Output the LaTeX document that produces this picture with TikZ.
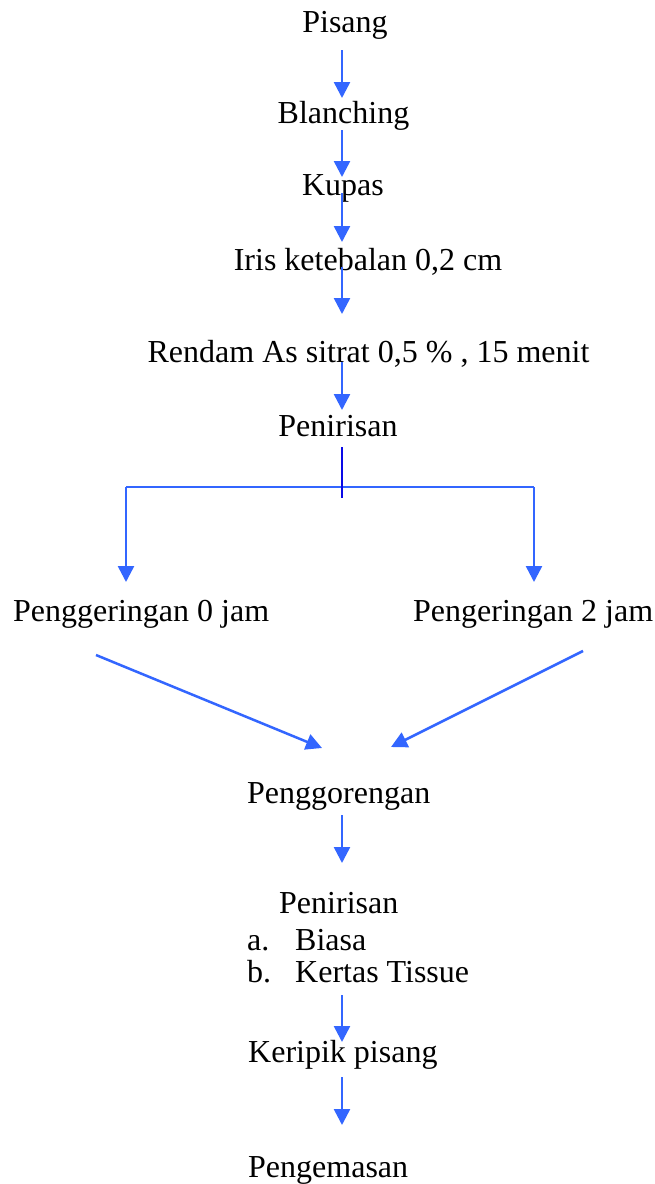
\documentclass[tikz,border=0pt]{standalone}
\usepackage{fontspec}
\setmainfont{Liberation Serif}
\usetikzlibrary{arrows.meta}
\definecolor{arrblue}{RGB}{51,102,255}
\definecolor{darkblue}{RGB}{10,10,230}
\tikzset{
  lbl/.style={inner sep=0pt, anchor=base, font=\fontsize{32}{38}\selectfont},
  lblw/.style={inner sep=0pt, anchor=base west, font=\fontsize{32}{38}\selectfont},
  arr/.style={draw=arrblue, line width=2.5pt, -{Triangle[width=16pt,length=16pt]}},
  ln/.style={draw=arrblue, line width=2.5pt},
}
\begin{document}
\begin{tikzpicture}[x=1pt,y=-1pt]
\useasboundingbox[fill=white] (0,0) rectangle (654,1184);
% texts
\node[lbl] (pisang) at (345,32) {Pisang};
\node[lbl] (blanch) at (343.5,123) {Blanching};
\node[lbl] (kupas) at (343,195) {Kupas};
\node[lbl] (iris) at (368,270) {Iris ketebalan 0,2 cm};
\node[lbl] (rendam) at (368.5,362) {Rendam As sitrat 0,5 \% , 15 menit};
\node[lbl] (penir1) at (338,436) {Penirisan};
\node[lblw] (peng0) at (13,621) {Penggeringan 0 jam};
\node[lblw] (peng2) at (413,621) {Pengeringan 2 jam};
\node[lblw] (goreng) at (247,803) {Penggorengan};
\node[lblw] (penir2) at (279,913) {Penirisan};
\node[lblw] (la) at (247,950) {a.};
\node[lblw] (biasa) at (295,950) {Biasa};
\node[lblw] (lb) at (247,982) {b.};
\node[lblw] (tissue) at (295,982) {Kertas Tissue};
\node[lblw] (keripik) at (248,1062) {Keripik pisang};
\node[lblw] (kemas) at (248,1177) {Pengemasan};
% arrow endpoints
\coordinate (a1s) at (342,50);   \coordinate (a1e) at (342,98);
\coordinate (a2s) at (342,130);  \coordinate (a2e) at (342,177);
\coordinate (a3s) at (342,193);  \coordinate (a3e) at (342,242);
\coordinate (a4s) at (342,267);  \coordinate (a4e) at (342,314);
\coordinate (a5s) at (342,362);  \coordinate (a5e) at (342,410);
\coordinate (sp1) at (342,447);  \coordinate (sp2) at (342,498);
\coordinate (hl) at (126,487);   \coordinate (hr) at (534,487);
\coordinate (tl) at (126,582);   \coordinate (tr) at (534,582);
\coordinate (dls) at (96,655);   \coordinate (dle) at (322,748);
\coordinate (drs) at (583,651);  \coordinate (dre) at (391,747);
\coordinate (a6s) at (342,815);  \coordinate (a6e) at (342,863);
\coordinate (a7s) at (342,995);  \coordinate (a7e) at (342,1042);
\coordinate (a8s) at (342,1077); \coordinate (a8e) at (342,1125);
% connectors
\draw[arr] (a1s) -- (a1e);
\draw[arr] (a2s) -- (a2e);
\draw[arr] (a3s) -- (a3e);
\draw[arr] (a4s) -- (a4e);
\draw[arr] (a5s) -- (a5e);
\draw[ln] (hl) -- (hr);
\draw[arr] (hl) -- (tl);
\draw[arr] (hr) -- (tr);
\draw[draw=darkblue, line width=2.5pt] (sp1) -- (sp2);
\draw[arr] (dls) -- (dle);
\draw[arr] (drs) -- (dre);
\draw[arr] (a6s) -- (a6e);
\draw[arr] (a7s) -- (a7e);
\draw[arr] (a8s) -- (a8e);
\end{tikzpicture}
\end{document}
